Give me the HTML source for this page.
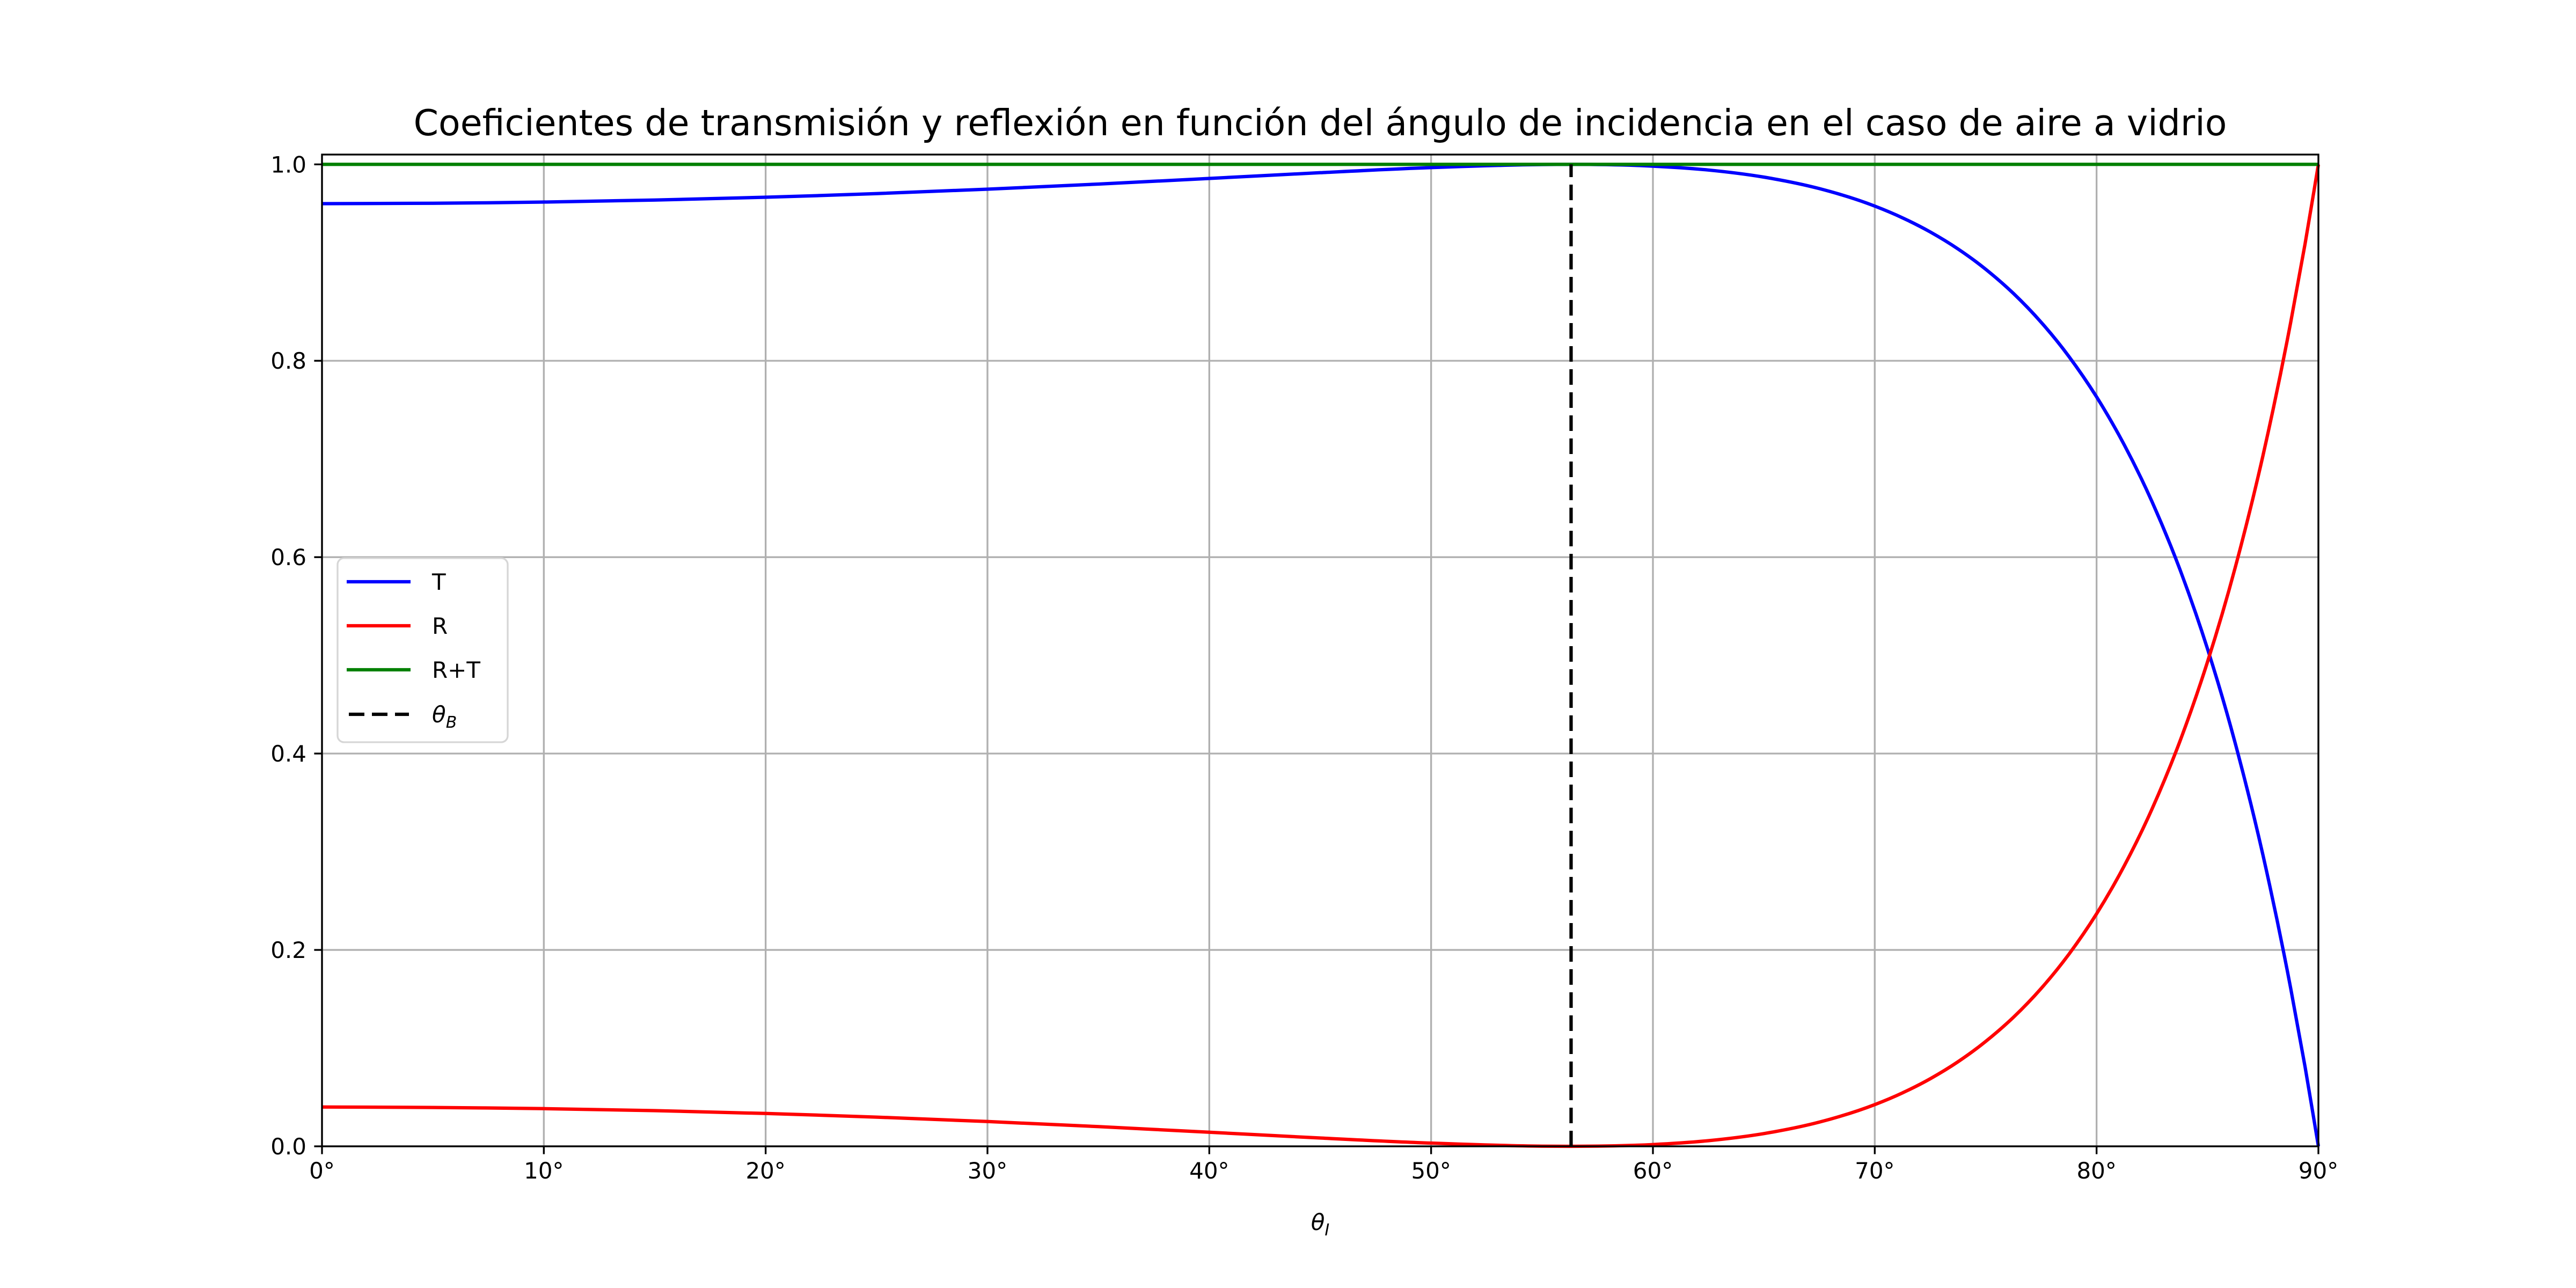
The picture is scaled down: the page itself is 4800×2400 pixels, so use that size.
<!DOCTYPE html>
<html><head><meta charset="utf-8"><style>
html,body{margin:0;padding:0;background:#fff}
svg{display:block;font-family:"DejaVu Sans","Liberation Sans",sans-serif}
</style></head><body>
<svg id="chart" width="4800" height="2400" viewBox="0 0 4800 2400" xmlns="http://www.w3.org/2000/svg">
<rect width="4800" height="2400" fill="#fff"/>
<g id="grid"></g>
<g id="series"></g>
<rect x="600" y="288" width="3720" height="1848" fill="none" stroke="#000" stroke-width="3.33"/>
<g id="ticks"></g>
<text x="2460" y="252" font-size="66.5" text-anchor="middle">Coeficientes de transmisión y reflexión en función del ángulo de incidencia en el caso de aire a vidrio</text>
<text x="2460" y="2292" font-size="42" text-anchor="middle" font-style="italic">θ<tspan font-size="30" dy="10">I</tspan></text>
<g>
<rect x="629" y="1040" width="317" height="343" rx="12" fill="#fff" fill-opacity="0.8" stroke="#d6d6d6" stroke-width="3.33"/>
<line x1="646" y1="1084" x2="765" y2="1084" stroke="#0000ff" stroke-width="6.25"/>
<text x="805" y="1099" font-size="42">T</text>
<line x1="646" y1="1166" x2="765" y2="1166" stroke="#ff0000" stroke-width="6.25"/>
<text x="805" y="1181" font-size="42">R</text>
<line x1="646" y1="1248" x2="765" y2="1248" stroke="#008000" stroke-width="6.25"/>
<text x="805" y="1263" font-size="42">R+T</text>
<line x1="650" y1="1331" x2="762" y2="1331" stroke="#000" stroke-width="6.25" stroke-dasharray="29,14"/>
<text x="805" y="1346" font-size="42" font-style="italic">θ<tspan font-size="30" dy="10">B</tspan></text>
</g>
</svg>
<script>
const angles=[0,5,10,15,20,25,30,35,40,45,50,55,56.31,60,62.5,65,67.5,70,71.25,72.5,73.75,75,76.25,77.5,78.75,80,81.25,82.5,83.75,85,86.25,87.5,88.75,89.4,90];
const reflect=[0.04,0.03959,0.03837,0.03632,0.03345,0.02975,0.02525,0.02004,0.01431,0.00847,0.00328,0.000178,0,0.0018,0.00576,0.01297,0.02464,0.04249,0.05442,0.06881,0.08609,0.10677,0.13141,0.16073,0.19555,0.23681,0.28571,0.34357,0.4121,0.49327,0.58942,0.70342,0.83889,0.91916,1];
const transmit=[0.96,0.96041,0.96163,0.96368,0.96655,0.97025,0.97475,0.97996,0.98569,0.99153,0.99672,0.999822,1,0.9982,0.99424,0.98703,0.97536,0.95751,0.94558,0.93119,0.91391,0.89323,0.86859,0.83927,0.80445,0.76319,0.71429,0.65643,0.5879,0.50673,0.41058,0.29658,0.16111,0.08084,0];
const total=[1,1,1,1,1,1,1,1,1,1,1,1,1,1,1,1,1,1,1,1,1,1,1,1,1,1,1,1,1,1,1,1,1,1,1];
const brewster=[56.31];
const xTicks=[0,10,20,30,40,50,60,70,80,90];
const yTicks=[0,0.2,0.4,0.6,0.8,1.0];
const yTickLabels=["0.0","0.2","0.4","0.6","0.8","1.0"];
const NS="http://www.w3.org/2000/svg";
const X0=600,X1=4320,Y0=2136,Y1=288,YMAX=1.01;
function xs(v){return X0+(v/90)*(X1-X0);}
function ys(v){return Y0-(v/YMAX)*(Y0-Y1);}
function mk(tag,attrs,parent){const e=document.createElementNS(NS,tag);for(const k in attrs)e.setAttribute(k,attrs[k]);parent.appendChild(e);return e;}
const grid=document.getElementById('grid'),ticks=document.getElementById('ticks'),series=document.getElementById('series');
xTicks.forEach(t=>{
 const g=mk('line',{x1:xs(t),x2:xs(t),y1:Y1,y2:Y0,stroke:'#b0b0b0','stroke-width':3.33},grid);
 
 
 const tk=mk('line',{x1:xs(t),x2:xs(t),y1:Y0,y2:Y0+14.6,stroke:'#000','stroke-width':3.33},ticks);
 
 
 const lb=mk('text',{x:xs(t),y:Y0+60,'font-size':42,'text-anchor':'middle'},ticks);
 
 
 lb.textContent=t+'°';
});
yTicks.forEach((t,i)=>{
 const g=mk('line',{x1:X0,x2:X1,y1:ys(t),y2:ys(t),stroke:'#b0b0b0','stroke-width':3.33},grid);
 
 
 const tk=mk('line',{x1:X0-14.6,x2:X0,y1:ys(t),y2:ys(t),stroke:'#000','stroke-width':3.33},ticks);
 
 
 const lb=mk('text',{x:X0-29,y:ys(t)+15,'font-size':42,'text-anchor':'end'},ticks);
 
 
 lb.textContent=yTickLabels[i];
});
function curve(vals,color,name){
 const P=angles.map((a,i)=>[xs(a),ys(vals[i])]);
 const n=P.length;
 const m=P.map((p,i)=>{
  if(i===0)return (P[1][1]-P[0][1])/(P[1][0]-P[0][0]);
  if(i===n-1)return (P[n-1][1]-P[n-2][1])/(P[n-1][0]-P[n-2][0]);
  const h1=P[i][0]-P[i-1][0],h2=P[i+1][0]-P[i][0];
  const d1=(P[i][1]-P[i-1][1])/h1,d2=(P[i+1][1]-P[i][1])/h2;
  return (h1*d2+h2*d1)/(h1+h2);
 });
 let d='M'+P[0][0].toFixed(1)+','+P[0][1].toFixed(1);
 for(let i=0;i<n-1;i++){
  const p1=P[i],p2=P[i+1],dx=(p2[0]-p1[0])/3;
  const c1=[p1[0]+dx,p1[1]+m[i]*dx];
  const c2=[p2[0]-dx,p2[1]-m[i+1]*dx];
  d+=' C'+c1[0].toFixed(1)+','+c1[1].toFixed(1)+' '+c2[0].toFixed(1)+','+c2[1].toFixed(1)+' '+p2[0].toFixed(1)+','+p2[1].toFixed(1);
 }
 const p=mk('path',{d:d,fill:'none',stroke:color,'stroke-width':6.25,'stroke-linejoin':'round'},series);
 
 
}
curve(transmit,'#0000ff','transmission-line');
curve(reflect,'#ff0000','reflection-line');
curve(total,'#008000','sum-line');
brewster.forEach(b=>{
 const l=mk('line',{x1:xs(b),x2:xs(b),y1:Y0,y2:ys(1),stroke:'#000','stroke-width':6.25,'stroke-dasharray':'29,14'},series);
 
 
});
</script>
</body></html>
